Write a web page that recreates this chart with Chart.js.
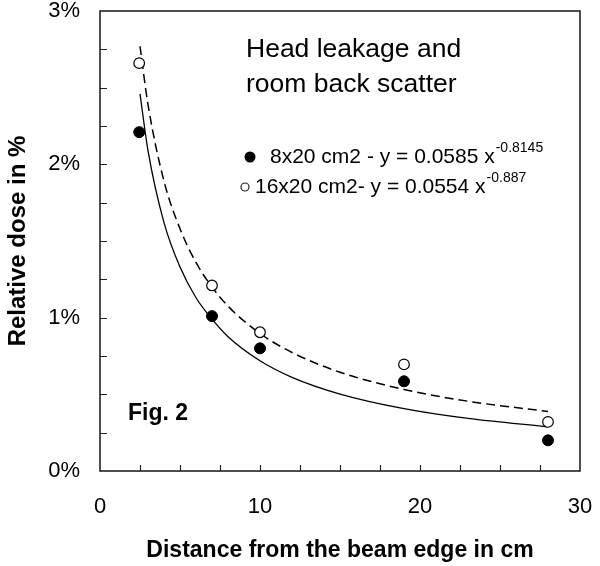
<!DOCTYPE html>
<html>
<head>
<meta charset="utf-8">
<script src="https://cdn.jsdelivr.net/npm/chart.js@4/dist/chart.umd.min.js"></script>
<style>
  html, body { margin: 0; padding: 0; background: #fff; }
  #wrap { width: 600px; height: 566px; }
</style>
</head>
<body>
<div id="wrap"><canvas id="doseChart" width="600" height="566"></canvas></div>
<script>
// measured points (distance in cm, relative dose in %)
const distances = [2.45, 7, 10, 19, 28];
const dose8x20 = [2.21, 1.01, 0.80, 0.585, 0.20];
const dose16x20 = [2.66, 1.21, 0.905, 0.695, 0.32];

// fitted curves
const fitX = [2.5, 3, 4, 5, 6, 7, 8, 10, 12, 15, 19, 23, 28];
const fitSolid = [2.46, 2.09, 1.62, 1.33, 1.13, 0.99, 0.876, 0.719, 0.611, 0.502, 0.407, 0.343, 0.288];
const fitDashed = [2.77, 2.39, 1.89, 1.58, 1.36, 1.20, 1.075, 0.897, 0.773, 0.644, 0.532, 0.455, 0.388];

const xTicks = [0, 10, 20, 30];
const yTicks = [0, 1, 2, 3];

const FONT = "'Liberation Sans', Arial, sans-serif";

const pairs = (xs, ys) => xs.map((x, i) => ({ x, y: ys[i] }));

// -----------------------------
// frame, inward ticks, notes
// -----------------------------
const framePlugin = {
    id: "frame",
    afterDraw(chart) {
        const { ctx, chartArea: a, scales: { x, y } } = chart;
        ctx.save();
        ctx.strokeStyle = "#222";
        ctx.lineWidth = 1.2;
        // minor ticks every 2.5 cm and every 0.25 %
        ctx.beginPath();
        for (let v = 2.5; v < 30; v += 2.5) {
            const px = Math.round(x.getPixelForValue(v)) + 0.5;
            ctx.moveTo(px, a.bottom);
            ctx.lineTo(px, a.bottom - 6);
        }
        for (let v = 0.25; v < 3; v += 0.25) {
            const py = Math.round(y.getPixelForValue(v)) + 0.5;
            ctx.moveTo(a.left, py);
            ctx.lineTo(a.left + 7, py);
        }
        ctx.stroke();
        ctx.lineWidth = 1.6;
        ctx.strokeRect(a.left, a.top, a.right - a.left, a.bottom - a.top);

        // notes
        ctx.fillStyle = "#000";
        ctx.textBaseline = "alphabetic";
        ctx.textAlign = "left";
        ctx.font = "26.5px " + FONT;
        ctx.fillText("Head leakage and", 246, 57);
        ctx.fillText("room back scatter", 246, 92);

        ctx.font = "21px " + FONT;
        ctx.beginPath();
        ctx.arc(250, 157, 5.5, 0, Math.PI * 2);
        ctx.fill();
        let t = "8x20 cm2 - y = 0.0585 x";
        ctx.fillText(t, 270, 163);
        let w = ctx.measureText(t).width;
        ctx.font = "14px " + FONT;
        ctx.fillText("-0.8145", 270 + w + 1, 152);

        ctx.font = "21px " + FONT;
        ctx.beginPath();
        ctx.arc(245, 187, 4, 0, Math.PI * 2);
        ctx.lineWidth = 1.2;
        ctx.stroke();
        t = "16x20 cm2- y = 0.0554 x";
        ctx.fillText(t, 255, 193);
        w = ctx.measureText(t).width;
        ctx.font = "14px " + FONT;
        ctx.fillText("-0.887", 255 + w + 1, 182);

        ctx.font = "bold 23px " + FONT;
        ctx.fillText("Fig. 2", 128, 420);
        ctx.restore();
    }
};

const ctx = document.getElementById("doseChart").getContext("2d");
new Chart(ctx, {
    type: "scatter",
    data: {
        datasets: [
            {
                label: "fit solid",
                type: "line",
                data: pairs(fitX, fitSolid),
                borderColor: "#000",
                borderWidth: 1.3,
                pointRadius: 0,
                cubicInterpolationMode: "monotone",
                fill: false,
                order: 3
            },
            {
                label: "fit dashed",
                type: "line",
                data: pairs(fitX, fitDashed),
                borderColor: "#000",
                borderWidth: 1.5,
                borderDash: [9, 5],
                pointRadius: 0,
                cubicInterpolationMode: "monotone",
                fill: false,
                order: 3
            },
            {
                label: "8x20 cm2",
                data: pairs(distances, dose8x20),
                pointRadius: 5.5,
                pointBackgroundColor: "#000",
                pointBorderColor: "#000",
                pointBorderWidth: 1,
                order: 1
            },
            {
                label: "16x20 cm2",
                data: pairs(distances, dose16x20),
                pointRadius: 5.3,
                pointBackgroundColor: "#fff",
                pointBorderColor: "#000",
                pointBorderWidth: 1.2,
                order: 2
            }
        ]
    },
    options: {
        responsive: false,
        animation: false,
        layout: { padding: { top: 11, right: 20, left: 0, bottom: 0 } },
        plugins: {
            legend: { display: false },
            tooltip: { enabled: false }
        },
        scales: {
            x: {
                type: "linear",
                min: 0,
                max: 30,
                afterBuildTicks: s => { s.ticks = xTicks.map(v => ({ value: v })); },
                afterFit: s => { s.height = 95; s.paddingLeft = 0; s.paddingRight = 0; },
                grid: { display: false, drawTicks: false },
                border: { display: false },
                ticks: { color: "#000", padding: 23, font: { family: FONT, size: 22 } },
                title: {
                    display: true,
                    text: "Distance from the beam edge in cm",
                    color: "#000",
                    padding: { top: 0, bottom: 2 },
                    font: { family: FONT, size: 23, weight: "bold" }
                }
            },
            y: {
                type: "linear",
                min: 0,
                max: 3,
                afterBuildTicks: s => { s.ticks = yTicks.map(v => ({ value: v })); },
                afterFit: s => { s.width = 100; s.paddingTop = 0; s.paddingBottom = 0; },
                grid: { display: false, drawTicks: false },
                border: { display: false },
                ticks: {
                    color: "#000",
                    padding: 20,
                    font: { family: FONT, size: 22 },
                    callback: v => v + "%"
                },
                title: {
                    display: true,
                    text: "Relative dose in %",
                    color: "#000",
                    padding: { top: 4, bottom: 0 },
                    font: { family: FONT, size: 24, weight: "bold" }
                }
            }
        }
    },
    plugins: [framePlugin]
});
</script>
</body>
</html>
